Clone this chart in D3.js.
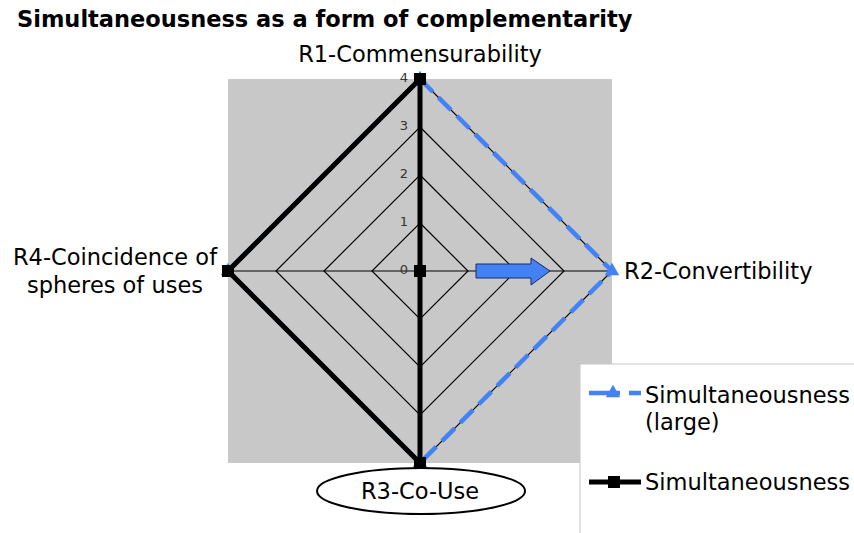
<!DOCTYPE html>
<html>
<head>
<meta charset="utf-8">
<script src="https://cdn.jsdelivr.net/npm/d3@7"></script>
<style>
  html, body { margin: 0; padding: 0; background: #fff; }
  svg { display: block; font-family: "DejaVu Sans", Verdana, sans-serif; }
</style>
</head>
<body>
<div id="chart"></div>
<script>
// Radar chart: simultaneousness as a form of complementarity

const AXES = ['R1-Commensurability', 'R2-Convertibility', 'R3-Co-Use', 'R4-Coincidence of spheres of uses'];
const TICKS = [0, 1, 2, 3, 4];
const LARGE = [4, 4, 4, 4];
const SIMULT = [4, 0, 4, 4];
const SERIES_NAMES = ['Simultaneousness (large)', 'Simultaneousness'];

const W = 854, H = 533;
const cx = 420, cy = 271;
const BLUE = '#4282f4';
const FS = '22.5px';

const svg = d3.select('#chart').append('svg')
    .attr('width', W).attr('height', H);

const r = d3.scaleLinear().domain([0, 4]).range([0, 192]);
const angle = d3.scaleLinear().domain([0, AXES.length]).range([0, 2 * Math.PI]);

function pt(i, v) {
    const a = angle(i);
    return [cx + Math.sin(a) * r(v), cy - Math.cos(a) * r(v)];
}

// Title
svg.append('text')
    .attr('x', 17).attr('y', 27)
    .attr('font-size', '22.5px').attr('font-weight', 'bold')
    .text('Simultaneousness as a form of complementarity');

// Plot area background
svg.append('rect')
    .attr('x', cx - r(4)).attr('y', cy - r(4))
    .attr('width', r(4) * 2).attr('height', r(4) * 2)
    .attr('fill', '#c8c8c8');

const g = svg.append('g');

// Grid rings
for (const t of TICKS.slice(1)) {
    g.append('polygon')
        .attr('points', AXES.map((_, i) => pt(i, t).join(',')).join(' '))
        .attr('fill', 'none').attr('stroke', '#000').attr('stroke-width', 1.2);
}

// Spokes
AXES.forEach((_, i) => {
    const [x, y] = pt(i, 4);
    g.append('line')
        .attr('x1', cx).attr('y1', cy).attr('x2', x).attr('y2', y)
        .attr('stroke', '#000').attr('stroke-width', 1.2);
});

// Tick labels
for (const t of TICKS) {
    g.append('text')
        .attr('x', cx - 12).attr('y', cy - r(t) - 2)
        .attr('text-anchor', 'end').attr('dominant-baseline', 'central')
        .attr('font-size', '13px').attr('fill', '#333')
        .text(t);
}

// Arrow annotation
const arrow = [[476, 264], [531, 264], [531, 258], [550, 271], [531, 285], [531, 278], [476, 278]];
g.append('polygon')
    .attr('points', arrow.map(p => p.join(',')).join(' '))
    .attr('fill', BLUE).attr('stroke', '#1a2a60').attr('stroke-width', 1);

// Series lines
const line = d3.line().curve(d3.curveLinearClosed);

g.append('path')
    .attr('d', line(LARGE.map((v, i) => pt(i, v))))
    .attr('fill', 'none').attr('stroke', BLUE).attr('stroke-width', 4.5)
    .attr('stroke-dasharray', '18,8');

const tri = d3.symbol().type(d3.symbolTriangle).size(90);
LARGE.forEach((v, i) => {
    const [x, y] = pt(i, v);
    g.append('path').attr('d', tri()).attr('transform', `translate(${x},${y})`).attr('fill', BLUE);
});

g.append('path')
    .attr('d', line(SIMULT.map((v, i) => pt(i, v))))
    .attr('fill', 'none').attr('stroke', '#000').attr('stroke-width', 5)
    .attr('stroke-linejoin', 'miter');

SIMULT.forEach((v, i) => {
    const [x, y] = pt(i, v);
    g.append('rect').attr('x', x - 6).attr('y', y - 6).attr('width', 12).attr('height', 12).attr('fill', '#000');
});

// Axis labels
const [x1, y1] = pt(0, 4);
svg.append('text').attr('x', x1).attr('y', 62).attr('text-anchor', 'middle')
    .attr('font-size', FS).text(AXES[0]);

const [x2, y2] = pt(1, 4);
svg.append('text').attr('x', x2 + 12).attr('y', y2 + 8)
    .attr('font-size', FS).text(AXES[1]);

const [x3, y3] = pt(2, 4);
svg.append('ellipse').attr('cx', x3 + 1).attr('cy', y3 + 28).attr('rx', 104).attr('ry', 23)
    .attr('fill', '#fff').attr('stroke', '#000').attr('stroke-width', 2);
svg.append('text').attr('x', x3).attr('y', y3 + 36).attr('text-anchor', 'middle')
    .attr('font-size', FS).text(AXES[2]);

const r4 = svg.append('text').attr('text-anchor', 'middle').attr('font-size', FS);
r4.append('tspan').attr('x', 115).attr('y', 265).text('R4-Coincidence of');
r4.append('tspan').attr('x', 115).attr('y', 293).text('spheres of uses');

// Legend
const lg = svg.append('g').attr('transform', 'translate(580,364)');
lg.append('rect').attr('x', 0).attr('y', 0).attr('width', 290).attr('height', 180)
    .attr('fill', '#fff').attr('stroke', '#c8c8c8').attr('stroke-width', 1);

lg.append('line').attr('x1', 9).attr('y1', 29).attr('x2', 61).attr('y2', 29)
    .attr('stroke', BLUE).attr('stroke-width', 4.5).attr('stroke-dasharray', '31,9');
lg.append('path').attr('d', tri()).attr('transform', 'translate(33,29)').attr('fill', BLUE);
const t1 = lg.append('text').attr('font-size', FS);
t1.append('tspan').attr('x', 65).attr('y', 39).text('Simultaneousness');
t1.append('tspan').attr('x', 65).attr('y', 66).text('(large)');

lg.append('line').attr('x1', 9).attr('y1', 118).attr('x2', 61).attr('y2', 118)
    .attr('stroke', '#000').attr('stroke-width', 5);
lg.append('rect').attr('x', 28).attr('y', 112).attr('width', 12).attr('height', 12).attr('fill', '#000');
lg.append('text').attr('x', 65).attr('y', 126).attr('font-size', FS).text(SERIES_NAMES[1]);
</script>
</body>
</html>
